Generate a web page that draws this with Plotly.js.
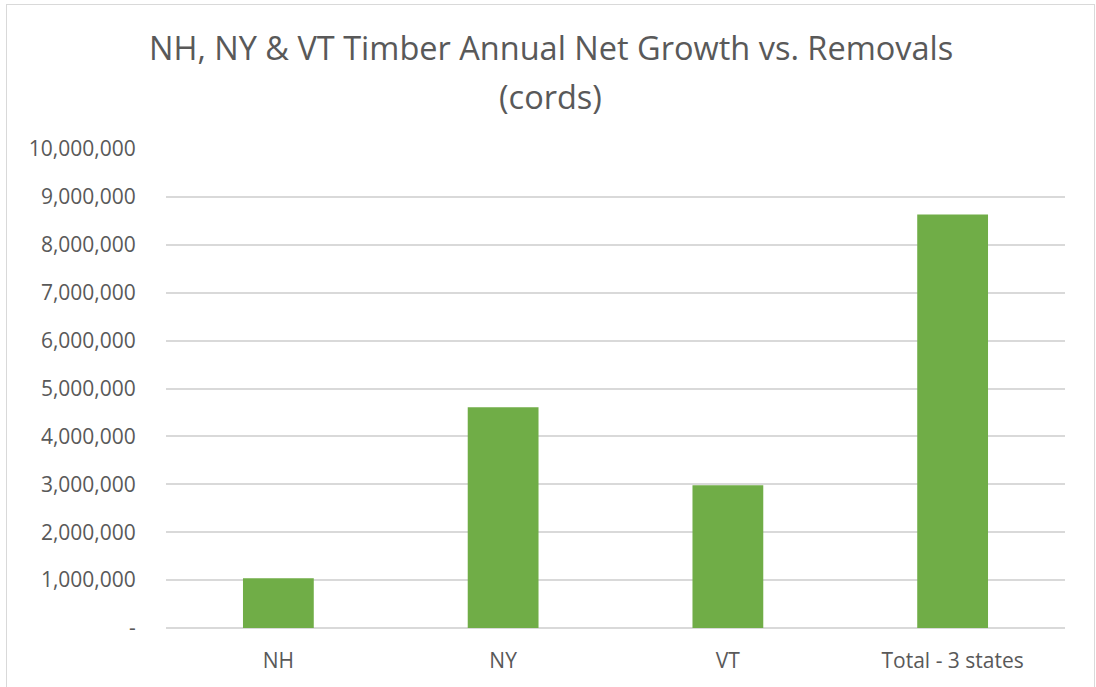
<!DOCTYPE html>
<html>
<head>
<meta charset="utf-8">
<script src="https://cdn.plot.ly/plotly-3.0.1.min.js"></script>
<style>
  html, body { margin: 0; padding: 0; background: #ffffff; overflow: hidden; width: 1096px; height: 687px; }
  #chart { width: 1096px; height: 687px; }
  #frame { position: absolute; left: 6px; top: 4px; width: 1089px; height: 700px;
           border: 1.5px solid #d9d9d9; pointer-events: none; box-sizing: border-box; }
</style>
</head>
<body>
<div id="chart"></div>
<div id="frame"></div>
<script>
const categories = ["NH", "NY", "VT", "Total - 3 states"];
const netGrowth = [1040000, 4610000, 2980000, 8630000];
const tickValues = [0, 1000000, 2000000, 3000000, 4000000, 5000000, 6000000, 7000000, 8000000, 9000000, 10000000];
const tickLabels = ["-", "1,000,000", "2,000,000", "3,000,000", "4,000,000", "5,000,000", "6,000,000", "7,000,000", "8,000,000", "9,000,000", "10,000,000"];
const titleLines = ["NH, NY & VT Timber Annual Net Growth vs. Removals", "(cords)"];

const font = "'Open Sans', 'Noto Sans', sans-serif";

Plotly.newPlot("chart", [{
  type: "bar",
  x: categories,
  y: netGrowth,
  marker: { color: "#70ad47" },
  hoverinfo: "x+y"
}], {
  width: 1096,
  height: 687,
  paper_bgcolor: "#ffffff",
  plot_bgcolor: "#ffffff",
  margin: { l: 166, r: 31, t: 149, b: 59 },
  bargap: 0.685,
  showlegend: false,
  annotations: [
    { text: titleLines[0], xref: "paper", yref: "paper", x: 0.428, y: 1.2109,
      xanchor: "center", yanchor: "middle", showarrow: false,
      font: { family: font, size: 32.5, color: "#595959" } },
    { text: titleLines[1], xref: "paper", yref: "paper", x: 0.428, y: 1.1086,
      xanchor: "center", yanchor: "middle", showarrow: false,
      font: { family: font, size: 32.5, color: "#595959" } }
  ],
  xaxis: {
    type: "category",
    range: [-0.5, 3.5],
    showgrid: false, zeroline: false, showline: false,
    ticks: "outside", ticklen: 14, tickcolor: "rgba(0,0,0,0)",
    tickfont: { family: font, size: 21, color: "#595959" }
  },
  yaxis: {
    range: [0, 10000000],
    tickvals: tickValues,
    ticktext: tickLabels,
    showgrid: true, gridcolor: "#d9d9d9", gridwidth: 1.5,
    zeroline: true, zerolinecolor: "#d9d9d9", zerolinewidth: 1.5,
    showline: false,
    ticks: "outside", ticklen: 25, tickcolor: "rgba(0,0,0,0)",
    tickfont: { family: font, size: 21, color: "#595959" }
  }
}, { displayModeBar: false });
</script>
</body>
</html>
